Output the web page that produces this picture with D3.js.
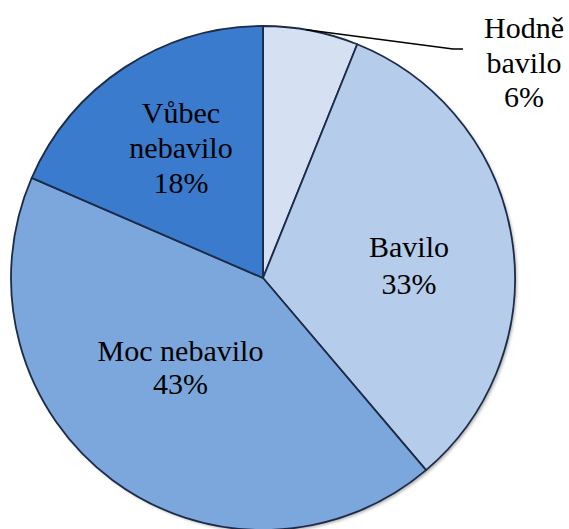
<!DOCTYPE html>
<html><head><meta charset="utf-8">
<script src="https://cdn.jsdelivr.net/npm/d3@7"></script>
</head><body style="margin:0">
<script>
const categories = ["Hodně bavilo", "Bavilo", "Moc nebavilo", "Vůbec nebavilo"];
const values = [6.1, 32.7, 42.7, 18.5];
const percentLabels = ["6%", "33%", "43%", "18%"];
const labelLines = [["Hodně", "bavilo", "6%"], ["Bavilo", "33%"], ["Moc nebavilo", "43%"], ["Vůbec", "nebavilo", "18%"]];
const colors = ["#D5E1F2", "#B5CCEA", "#7CA7DC", "#3A7BCE"];

const W = 569, H = 529, cx = 263, cy = 278, R = 252;
const FONT = 'Tinos, "Times New Roman", "Liberation Serif", FreeSerif, serif';
const svg = d3.select("body").append("svg").attr("width", W).attr("height", H)
  .style("display", "block");
const defs = svg.append("defs");
const f = defs.append("filter").attr("id", "sh").attr("x", "-10%").attr("y", "-10%").attr("width", "120%").attr("height", "120%");
f.append("feDropShadow").attr("dx", 2).attr("dy", 2).attr("stdDeviation", 1.5).attr("flood-color", "#000").attr("flood-opacity", 0.3);

const pie = d3.pie().sort(null).value(d => d)(values);
const arc = d3.arc().innerRadius(0).outerRadius(R);
const g = svg.append("g").attr("transform", `translate(${cx},${cy})`);
g.append("circle").attr("r", R).attr("fill", "#fff").attr("filter", "url(#sh)");
g.selectAll("path").data(pie).join("path")
  .attr("d", arc).attr("fill", (d, i) => colors[i])
  .attr("stroke", "#1B2B48").attr("stroke-width", 1.8).attr("stroke-linejoin", "round");

const labelPos = [[261, -240], [146, -21], [-82.5, 83], [-82, -155]];
const lineH = [34.5, 37, 33, 35];
labelLines.forEach((lines, i) => {
  const t = svg.append("text").attr("text-anchor", "middle")
    .style("font-family", FONT).style("font-size", "30px").style("fill", "#000");
  lines.forEach((s, j) => {
    t.append("tspan").attr("x", cx + labelPos[i][0]).attr("y", cy + labelPos[i][1] + j * lineH[i]).text(s);
  });
});

const a0 = pie[0].startAngle + (pie[0].endAngle - pie[0].startAngle) * 0.45;
const p0 = [cx + R * Math.sin(a0), cy - R * Math.cos(a0)];
svg.append("path").attr("d", d3.line()([p0, [453, 49], [463, 49]]))
  .attr("fill", "none").attr("stroke", "#000").attr("stroke-width", 1.3);
</script>
</body></html>
